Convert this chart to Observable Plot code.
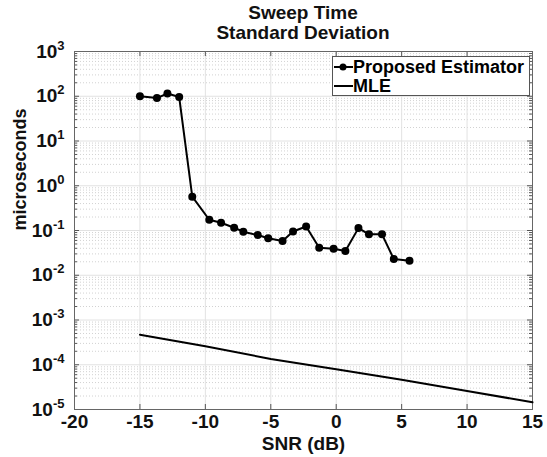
<!DOCTYPE html>
<html>
<head>
<meta charset="utf-8">
<script src="https://cdn.jsdelivr.net/npm/d3@7"></script>
<script src="https://cdn.jsdelivr.net/npm/@observablehq/plot@0.6"></script>
<style>
  html, body { margin: 0; padding: 0; background: white; }
  #wrap { position: relative; width: 547px; height: 457px; font-family: "Liberation Sans", Arial, Helvetica, sans-serif; font-weight: bold; color: #000; }
  #title { position: absolute; left: 74px; width: 458px; top: 3px; text-align: center; font-size: 19px; line-height: 20px; color: #111; }
  #chart { position: absolute; left: 0; top: 46px; }
  #legend { position: absolute; left: 332px; top: 56px; width: 198px; height: 40px; border: 1px solid #555; background: white; box-sizing: border-box; font-size: 18px; }
  .row { position: absolute; left: 0; height: 18px; line-height: 18px; white-space: nowrap; }
  .row svg { position: absolute; left: 0; top: 3px; }
  .row span { position: absolute; left: 20px; top: 0; }
</style>
</head>
<body>
<div id="wrap">
  <div id="title">Sweep Time<br>Standard Deviation</div>
  <div id="chart"></div>
  <div id="legend"></div>
</div>
<script>
// Data
const snrProposed = [-15.0, -13.7, -12.9, -12.0, -11.0, -9.7, -8.8, -7.8, -7.1, -6.0, -5.2, -4.1, -3.3, -2.3, -1.3, -0.2, 0.7, 1.7, 2.5, 3.5, 4.4, 5.6];
const stdProposed = [100, 91, 115, 96, 0.57, 0.174, 0.149, 0.115, 0.094, 0.079, 0.067, 0.058, 0.095, 0.123, 0.041, 0.039, 0.035, 0.113, 0.082, 0.082, 0.023, 0.021];
const snrMLE = [-15, -10, -5, 0, 5, 10, 15];
const stdMLE = [4.7e-4, 2.6e-4, 1.35e-4, 7.9e-5, 4.6e-5, 2.6e-5, 1.45e-5];
const xTicks = [-20, -15, -10, -5, 0, 5, 10, 15];
const yExponents = [-5, -4, -3, -2, -1, 0, 1, 2, 3];
const seriesNames = ["Proposed Estimator", "MLE"];

const yTicks = yExponents.map(e => Math.pow(10, e));
const yMinor = [];
for (const e of yExponents.slice(0, -1)) for (let m = 2; m <= 9; m++) yMinor.push(m * Math.pow(10, e));

const proposed = snrProposed.map((x, i) => ({x, y: stdProposed[i]}));
const mle = snrMLE.map((x, i) => ({x, y: stdMLE[i]}));

const W = 547, H = 411, mT = 5, mB = 48, mL = 74, mR = 15;
const pw = W - mL - mR, ph = H - mT - mB;
const tickCol = "#555";

const chart = Plot.plot({
  width: W, height: H,
  marginTop: mT, marginBottom: mB, marginLeft: mL, marginRight: mR,
  style: {fontFamily: '"Liberation Sans", Arial, Helvetica, sans-serif', fontSize: "19px", fontWeight: "bold", color: "#111", background: "white", overflow: "visible"},
  x: {domain: [-20, 15]},
  y: {type: "log", domain: [1e-5, 1e3]},
  marks: [
    Plot.ruleY(yMinor, {stroke: "#d2d2d2", strokeDasharray: "1,2"}),
    Plot.ruleY(yTicks, {stroke: "#e2e2e2"}),
    Plot.ruleX(xTicks, {stroke: "#e2e2e2"}),
    // inward ticks
    Plot.ruleY(yTicks, {stroke: tickCol, insetRight: pw - 5}),
    Plot.ruleY(yTicks, {stroke: tickCol, insetLeft: pw - 5}),
    Plot.ruleY(yMinor, {stroke: tickCol, insetRight: pw - 3}),
    Plot.ruleY(yMinor, {stroke: tickCol, insetLeft: pw - 3}),
    Plot.ruleX(xTicks, {stroke: tickCol, insetTop: ph - 5}),
    Plot.ruleX(xTicks, {stroke: tickCol, insetBottom: ph - 5}),
    Plot.frame({stroke: "#666"}),
    Plot.line(mle, {x: "x", y: "y", stroke: "black", strokeWidth: 2}),
    Plot.line(proposed, {x: "x", y: "y", stroke: "black", strokeWidth: 2}),
    Plot.dot(proposed, {x: "x", y: "y", r: 4, fill: "black", stroke: "none"}),
    Plot.axisX({ticks: xTicks, tickSize: 0, tickPadding: 5, tickFormat: d => String(d), label: null}),
    Plot.axisY({ticks: yTicks, tickSize: 0, tickPadding: 10, tickFormat: d => "e" + Math.round(Math.log10(d)), label: null}),
    Plot.text(["SNR (dB)"], {text: d => d, frameAnchor: "bottom", dy: 34, lineAnchor: "middle", fontSize: 19, fontWeight: "bold", fill: "#111"}),
    Plot.text(["microseconds"], {text: d => d, frameAnchor: "left", dx: -54, rotate: -90, fontSize: 18, fontWeight: "bold", fill: "#111"})
  ]
});
document.getElementById("chart").appendChild(chart);

// superscript exponents on y tick labels
chart.querySelectorAll('g[aria-label="y-axis tick label"] text').forEach(t => {
  const s = t.textContent;
  if (!s.startsWith("e")) return;
  const exp = s.slice(1);
  t.textContent = "";
  const ns = "http://www.w3.org/2000/svg";
  const a = document.createElementNS(ns, "tspan");
  a.textContent = "10";
  const b = document.createElementNS(ns, "tspan");
  b.textContent = exp;
  b.setAttribute("font-size", "13");
  b.setAttribute("dy", "-8");
  t.appendChild(a); t.appendChild(b);
});

// legend
const legend = document.getElementById("legend");
seriesNames.forEach((name, i) => {
  const row = document.createElement("div");
  row.className = "row";
  row.style.top = (1 + i * 18.5) + "px";
  const marker = i === 0 ? '<circle cx="10" cy="6" r="3.5" fill="black"/>' : '';
  row.innerHTML = '<svg width="20" height="12"><line x1="1" y1="6" x2="20" y2="6" stroke="black" stroke-width="2"/>' + marker + '</svg><span>' + name + '</span>';
  legend.appendChild(row);
});
</script>
</body>
</html>
